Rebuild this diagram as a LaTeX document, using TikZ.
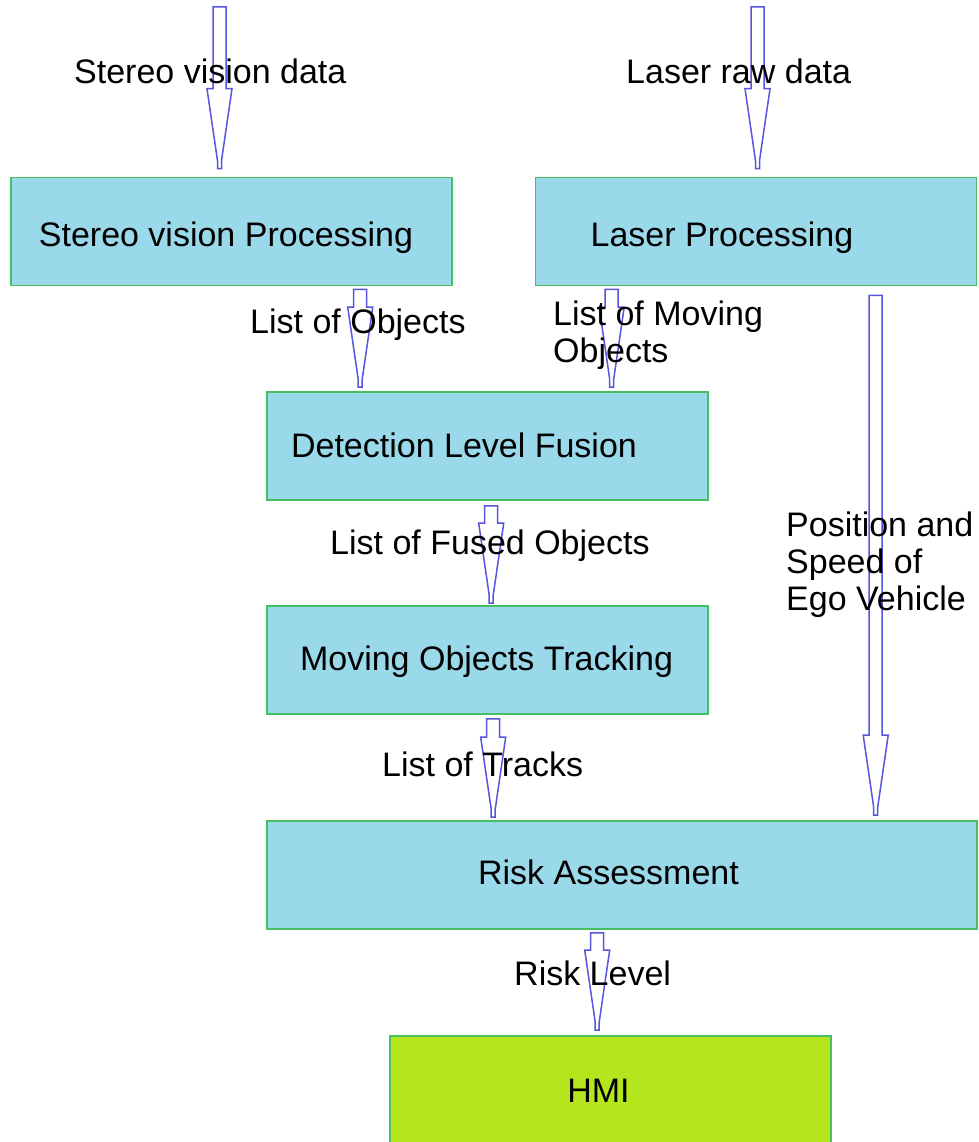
\documentclass[tikz,border=0pt]{standalone}
\usepackage{fontspec}
\setmainfont{Liberation Sans}
\usetikzlibrary{calc}
\definecolor{boxfill}{RGB}{153,217,234}
\definecolor{boxline}{RGB}{70,190,100}
\definecolor{hmifill}{RGB}{181,230,29}
\definecolor{arrowblue}{RGB}{85,85,225}
\tikzset{
  procbox/.style={draw=boxline, line width=1.6pt, fill=boxfill, minimum width=441pt, minimum height=108pt, inner sep=0pt},
  hmibox/.style={draw=boxline, line width=1.6pt, fill=hmifill, minimum width=441pt, minimum height=120pt, inner sep=0pt},
  lbl/.style={font=\fontsize{34pt}{40pt}\selectfont, inner sep=0pt},
  blockarrow/.style={draw=arrowblue, line width=1.5pt, line join=miter},
}
% #1 top coordinate, #2 tip coordinate (same x)
\newcommand\hollowarrow[2]{%
  \draw[blockarrow] let \p1=(#1), \p2=(#2) in
    (\x1-6.5pt,\y1) -- (\x1+6.5pt,\y1) -- (\x1+6.5pt,\y2+80pt) -- (\x1+12.5pt,\y2+80pt)
    -- (\x1+2pt,\y2+8pt) -- (\x1+2pt,\y2) -- (\x1-2pt,\y2) -- (\x1-2pt,\y2+8pt)
    -- (\x1-12.5pt,\y2+80pt) -- (\x1-6.5pt,\y2+80pt) -- cycle;}
\begin{document}
\begin{tikzpicture}[x=1pt,y=-1pt]
\clip (0,0) rectangle (978,1142);
\fill[white] (0,0) rectangle (978,1142);

% boxes
\node[procbox] (sv) at (231.5,231.5) {};
\node[procbox] (lp) at (756,231.5) {};
\node[procbox] (dlf) at (487.5,446) {};
\node[procbox] (mot) at (487.5,660) {};
\node[procbox, minimum width=710pt] (ra) at (622,875) {};
\node[hmibox, anchor=north] (hmi) at (610.5,1035) {};

% box texts (anchored on their baselines)
\node[lbl, anchor=base] (svt) at (226,246) {Stereo vision Processing};
\node[lbl, anchor=base] (lpt) at (722,246.5) {Laser Processing};
\node[lbl, anchor=base] (dlft) at (464,457.5) {Detection Level Fusion};
\node[lbl, anchor=base] (mott) at (486.5,670.5) {Moving Objects Tracking};
\node[lbl, anchor=base] (rat) at (608.5,884.5) {Risk Assessment};
\node[lbl, anchor=base] (hmit) at (598.5,1102.5) {HMI};

% arrow end points
\coordinate (in1) at (219.5,7);
\coordinate (in2) at (757.5,7);
\coordinate (e1) at ($(sv.north) + (-12,-8)$);
\coordinate (e2) at ($(lp.north) + (1.5,-8)$);
\coordinate (s3) at ($(sv.south west) + (350,3)$);
\coordinate (e3) at ($(dlf.north west) + (94,-4)$);
\coordinate (s4) at ($(lp.south west) + (77,3)$);
\coordinate (e4) at ($(dlf.north west) + (345,-4)$);
\coordinate (s5) at ($(dlf.south west) + (225,5)$);
\coordinate (e5) at ($(mot.north west) + (225,-2)$);
\coordinate (s6) at ($(lp.south west) + (341,9)$);
\coordinate (e6) at ($(ra.north west) + (609,-5)$);
\coordinate (s7) at ($(mot.south west) + (227,4)$);
\coordinate (e7) at ($(ra.north west) + (227,-3)$);
\coordinate (s8) at ($(ra.south west) + (331,3)$);
\coordinate (e8) at ($(hmi.north west) + (208,-5)$);

\hollowarrow{in1}{e1}
\hollowarrow{in2}{e2}
\hollowarrow{s3}{e3}
\hollowarrow{s4}{e4}
\hollowarrow{s5}{e5}
\hollowarrow{s6}{e6}
\hollowarrow{s7}{e7}
\hollowarrow{s8}{e8}

% connector labels (anchored on their baselines)
\node[lbl, anchor=base west] (l1) at (74,84) {Stereo vision data};
\node[lbl, anchor=base west] (l2) at (626,84) {Laser raw data};
\node[lbl, anchor=base west] (l3) at (250,333) {List of Objects};
\node[lbl, anchor=base west] (l4a) at (553,325) {List of Moving};
\node[lbl, anchor=base west] (l4b) at (553,362.5) {Objects};
\node[lbl, anchor=base west] (l5) at (330,554) {List of Fused Objects};
\node[lbl, anchor=base west] (l6a) at (786,536.5) {Position and};
\node[lbl, anchor=base west] (l6b) at (786,573.5) {Speed of};
\node[lbl, anchor=base west] (l6c) at (786,610.5) {Ego Vehicle};
\node[lbl, anchor=base west] (l7) at (382,776.5) {List of Tracks};
\node[lbl, anchor=base west] (l8) at (514,985) {Risk Level};
\end{tikzpicture}
\end{document}
